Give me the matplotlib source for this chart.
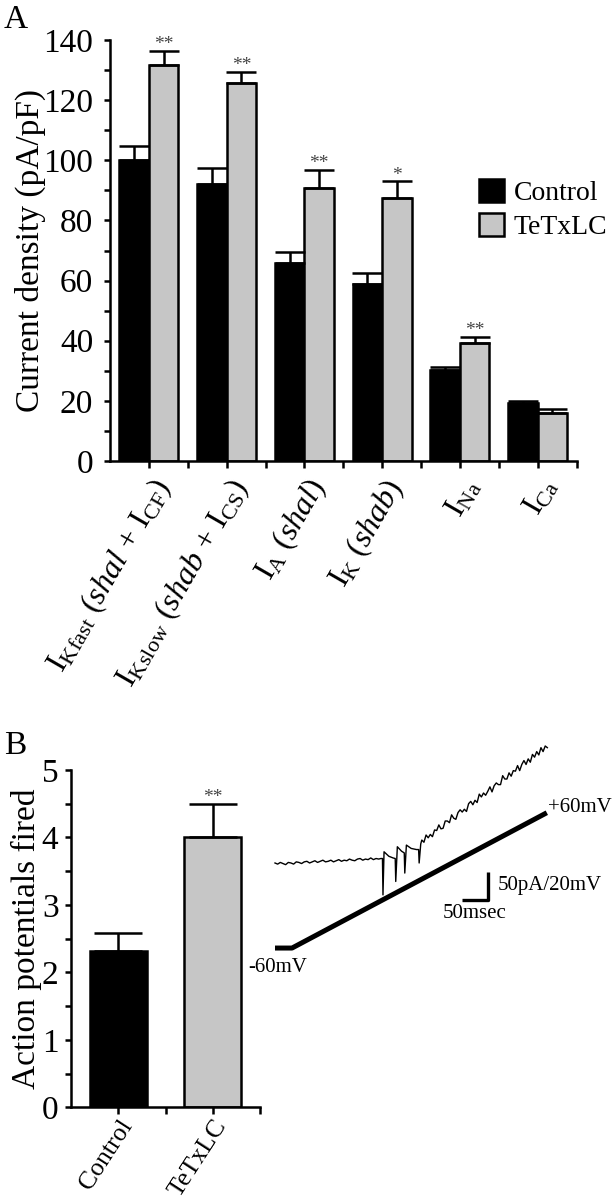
import matplotlib
matplotlib.use("Agg")
import matplotlib.pyplot as plt
import numpy as np
from matplotlib.ticker import MultipleLocator

plt.rcParams['font.family'] = ['Liberation Serif', 'DejaVu Serif']
plt.rcParams['mathtext.fontset'] = 'custom'
plt.rcParams['mathtext.rm'] = 'Liberation Serif'
plt.rcParams['mathtext.it'] = 'Liberation Serif:italic'
plt.rcParams['axes.linewidth'] = 1.8

################################################ data, panel A
currents = [r'$\mathrm{I_{Kfast}}$ ($\mathit{shal}$ + $\mathrm{I_{CF}}$)',
            r'$\mathrm{I_{Kslow}}$ ($\mathit{shab}$ + $\mathrm{I_{CS}}$)',
            r'$\mathrm{I_{A}}$ ($\mathit{shal}$)',
            r'$\mathrm{I_{K}}$ ($\mathit{shab}$)',
            r'$\mathrm{I_{Na}}$',
            r'$\mathrm{I_{Ca}}$']
control_mean = [100.0, 92.0, 66.0, 59.0, 30.2, 19.4]
control_sem = [4.7, 5.5, 3.4, 3.5, 1.2, 0.7]
tetx_mean = [131.7, 125.8, 90.8, 87.4, 39.2, 16.0]
tetx_sem = [4.7, 3.5, 6.0, 5.6, 2.0, 1.3]
stars_A = ['**', '**', '**', '*', '**', '']

################################################ data, panel B
groups_B = ['Control', 'TeTxLC']
ap_mean = [2.32, 4.0]
ap_sem = [0.27, 0.5]
stars_B = ['', '**']

################################################ data, inset trace (ms, mV, pA)
ramp_t = [0, 32, 511]
ramp_mv = [-60, -60, 60]
trace_t = [0, 5, 10, 15, 20, 25, 30, 35, 40, 45, 50, 55, 60, 65, 70, 75, 80, 85,
           90, 95, 100, 105, 110, 115, 120, 125, 130, 135, 140, 145, 150, 155,
           160, 165, 170, 175, 180, 185, 190, 195, 199,
           202, 203, 205, 214, 222, 226, 227, 230, 238,
           243, 244, 247, 256, 266, 270, 271, 274,
           276, 280, 284, 288, 292, 296, 300, 304, 308, 312, 316, 320, 324, 328,
           332, 336, 340, 344, 348, 352, 356, 360, 364, 368, 372, 376, 380, 384,
           388, 392, 396, 400, 404, 408, 412, 416, 420, 424, 428, 432, 436, 440,
           444, 448, 452, 456, 460, 464, 468, 472, 476, 480, 484, 488, 492, 496,
           500, 504, 508, 512]
trace_pa = [0, -2, 1, -1, -3, 1, 0, -2, 2, 1, -1, 2, 3, 0, 2, 4, 1, 3,
            5, 2, 3, 5, 2, 4, 6, 3, 5, 4, 7, 5, 4, 7, 8, 5, 7, 6, 9, 6, 8, 7, 8,
            8, -57, 20, 12, 9, 8, -33, 29, 21,
            18, -18, 32, 26, 24, 24, 0, 34,
            41, 37, 50, 45, 51, 47, 59, 58, 68, 61, 62, 75, 75, 72,
            86, 80, 78, 90, 95, 91, 96, 92, 106, 110, 104, 112, 108, 123,
            118, 125, 121, 128, 136, 127, 138, 143, 140, 140, 156, 150, 150, 161,
            155, 165, 164, 174, 165, 176, 183, 176, 186, 180, 194, 189, 199, 193,
            206, 199, 209, 206]
scale_t = 50   # ms
scale_pa = 50  # pA

fig = plt.figure(figsize=(6.14, 12), dpi=100)

grey = '#c6c6c6'
lw = 1.8

################################################ panel A
axA = fig.add_axes([110/614, 1-461/1200, 466.5/614, 421/1200])
x = np.arange(len(currents))
w = 0.38
b1 = axA.bar(x - w/2, control_mean, w, color='black', edgecolor='black', linewidth=lw, label='Control')
b2 = axA.bar(x + w/2, tetx_mean, w, color=grey, edgecolor='black', linewidth=lw, label='TeTxLC')
axA.errorbar(x - w/2, control_mean, yerr=[np.zeros(len(x)), control_sem], fmt='none',
             ecolor='black', elinewidth=lw, capsize=11, capthick=lw)
axA.errorbar(x + w/2, tetx_mean, yerr=[np.zeros(len(x)), tetx_sem], fmt='none',
             ecolor='black', elinewidth=lw, capsize=11, capthick=lw)
for i in range(len(x)):
    if stars_A[i]:
        axA.annotate(stars_A[i], (x[i] + w/2, tetx_mean[i] + tetx_sem[i]), xytext=(0, 4.5),
                     textcoords='offset points', ha='center', va='center', fontsize=14, color='#444444')

axA.set_xlim(-0.5, 5.5)
axA.set_ylim(0, 140)
axA.yaxis.set_major_locator(MultipleLocator(20))
axA.yaxis.set_minor_locator(MultipleLocator(10))
axA.set_xticks(x)
axA.set_xticks(x + 0.5, minor=True)
axA.set_xticklabels(currents, rotation=60, ha='right', va='top', rotation_mode='anchor', fontsize=23)
axA.tick_params(axis='y', which='both', direction='out', length=4, width=lw, labelsize=24, pad=8)
axA.tick_params(axis='x', which='both', direction='out', length=5, width=lw, pad=4)
axA.spines['top'].set_visible(False)
axA.spines['right'].set_visible(False)
axA.set_ylabel('Current density (pA/pF)', fontsize=24, labelpad=-2)

axA.legend(handles=[b1, b2], loc='upper left', bbox_to_anchor=(479/614, 1-179/1200),
           bbox_transform=fig.transFigure, frameon=False, fontsize=20, borderpad=0,
           borderaxespad=0, handlelength=0.9, handleheight=0.9, handletextpad=0.35,
           labelspacing=0.25)

fig.text(4/614, 1-5/1200, 'A', fontsize=24, va='top', ha='left')
fig.text(4/614, 1-731/1200, 'B', fontsize=24, va='top', ha='left')

################################################ panel B
axB = fig.add_axes([71/614, 1-1107.3/1200, 189/614, 337.3/1200])
xb = np.arange(len(groups_B))
axB.bar(xb, ap_mean, 0.6, color=['black', grey], edgecolor='black', linewidth=lw)
axB.errorbar(xb, ap_mean, yerr=[np.zeros(len(xb)), ap_sem], fmt='none',
             ecolor='black', elinewidth=lw, capsize=17, capthick=lw)
for i in range(len(xb)):
    if stars_B[i]:
        axB.annotate(stars_B[i], (xb[i], ap_mean[i] + ap_sem[i]), xytext=(0, 4.5),
                     textcoords='offset points', ha='center', va='center', fontsize=14, color='#444444')
axB.set_xlim(-0.5, 1.5)
axB.set_ylim(0, 5)
axB.yaxis.set_major_locator(MultipleLocator(1))
axB.yaxis.set_minor_locator(MultipleLocator(0.5))
axB.set_xticks(xb)
axB.set_xticks(xb + 0.5, minor=True)
axB.set_xticklabels(groups_B, rotation=57, ha='right', va='top', rotation_mode='anchor', fontsize=18.5)
axB.tick_params(axis='y', which='both', direction='out', length=4, width=lw, labelsize=24, pad=5)
axB.tick_params(axis='x', which='both', direction='out', length=5, width=lw, pad=1)
axB.spines['top'].set_visible(False)
axB.spines['right'].set_visible(False)
axB.set_ylabel('Action potentials fired', fontsize=24, labelpad=0)

################################################ inset: ramp and current trace
axV = fig.add_axes([265/614, 1-960/1200, 295/614, 220/1200])
axV.set_xlim(-18.8, 535.8)
axV.set_ylim(-70.6, 124.5)
axV.axis('off')
axI = axV.twinx()
axI.set_ylim(-173.3, 219.7)
axI.axis('off')

axV.plot(ramp_t, ramp_mv, color='black', linewidth=3.6, solid_capstyle='butt')
axI.plot(trace_t, trace_pa, color='black', linewidth=1.0)

bar_t0, bar_i0 = 351, -66
axI.plot([bar_t0, bar_t0 + scale_t, bar_t0 + scale_t], [bar_i0, bar_i0, bar_i0 + scale_pa],
         color='black', linewidth=2.4, solid_capstyle='butt')
axI.annotate('50pA/20mV', (bar_t0 + scale_t, bar_i0 + scale_pa/2), xytext=(7, 0),
             textcoords='offset points', ha='left', va='center', fontsize=15)
axI.annotate('50msec', (bar_t0 + scale_t/2, bar_i0), xytext=(0, -10),
             textcoords='offset points', ha='center', va='center', fontsize=15)
axV.annotate('+60mV', (ramp_t[-1], ramp_mv[-1]), xytext=(1, 4),
             textcoords='offset points', ha='left', va='center', fontsize=15)
axV.annotate('-60mV', (ramp_t[1] / 2, ramp_mv[0]), xytext=(-4, -14),
             textcoords='offset points', ha='center', va='center', fontsize=15)

fig.savefig('out.png', dpi=100)
